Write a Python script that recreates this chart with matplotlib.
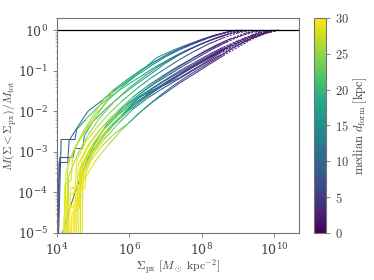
import numpy as np
import matplotlib
matplotlib.use("Agg")
import matplotlib.pyplot as plt
from matplotlib.collections import LineCollection
from matplotlib.colors import Normalize

plt.rcParams['mathtext.fontset'] = 'cm'
plt.rcParams['font.family'] = ['DejaVu Serif']

# log10 surface density knots for each galaxy curve
curve_logsigma = [
    [4.02, 4.06, 4.30, 4.34, 4.60, 4.86, 5.30, 5.70, 6.00, 6.40, 6.76, 7.20, 7.60, 8.00, 8.40, 8.75, 8.95],
    [4.03, 4.08, 4.45, 4.50, 4.72, 4.76, 5.00, 5.40, 5.80, 6.20, 6.60, 7.00, 7.40, 7.80, 8.20, 8.60, 9.00, 9.15],
    [4.05, 4.12, 4.50, 4.55, 4.80, 5.10, 5.50, 5.90, 6.30, 6.70, 7.10, 7.50, 7.90, 8.30, 8.70, 9.10, 9.35],
    [4.15, 4.50, 4.80, 5.05, 5.40, 5.80, 6.20, 6.60, 7.00, 7.40, 7.80, 8.20, 8.60, 9.00, 9.40, 9.70],
    [4.20, 4.22, 4.40, 4.44, 4.70, 5.00, 5.30, 5.55, 5.90, 6.30, 6.70, 7.10, 7.50, 7.90, 8.30, 8.70, 9.05],
    [4.25, 4.28, 4.50, 4.55, 4.80, 5.10, 5.45, 5.80, 6.20, 6.60, 7.00, 7.40, 7.80, 8.20, 8.60, 9.00, 9.40],
    [4.30, 4.32, 4.60, 4.64, 4.90, 5.20, 5.60, 6.00, 6.40, 6.80, 7.20, 7.60, 8.00, 8.40, 8.80, 9.20, 9.55],
    [4.35, 4.38, 4.55, 4.60, 4.85, 5.15, 5.50, 5.90, 6.30, 6.70, 7.10, 7.50, 7.90, 8.30, 8.70, 9.10, 9.50, 9.75],
    [4.40, 4.42, 4.62, 4.66, 4.95, 5.25, 5.60, 6.00, 6.40, 6.80, 7.20, 7.60, 8.00, 8.40, 8.80, 9.20, 9.60, 9.85],
    [4.55, 4.58, 4.80, 5.00, 5.30, 5.60, 5.90, 6.30, 6.80, 7.40, 8.00, 8.50, 9.00, 9.50, 9.90, 10.15],
    [4.45, 4.47, 4.70, 4.75, 5.00, 5.30, 5.70, 6.10, 6.50, 6.90, 7.30, 7.70, 8.10, 8.50, 8.90, 9.30, 9.70, 10.00],
    [4.60, 4.62, 4.85, 5.10, 5.40, 5.80, 6.20, 6.60, 7.00, 7.40, 7.80, 8.20, 8.60, 9.00, 9.40, 9.80, 10.10],
    [4.22, 4.25, 4.45, 4.70, 5.00, 5.30, 5.55, 5.90, 6.30, 6.70, 7.10, 7.50, 7.90, 8.30, 8.70, 9.00],
    [4.18, 4.20, 4.35, 4.38, 4.65, 4.68, 4.95, 5.30, 5.70, 6.10, 6.50, 6.90, 7.30, 7.70, 8.10, 8.50, 8.90, 9.30, 9.60],
    [4.50, 4.52, 4.68, 4.72, 5.00, 5.35, 5.75, 6.15, 6.55, 6.95, 7.35, 7.75, 8.15, 8.55, 8.95, 9.35, 9.75, 9.95],
    [4.65, 4.67, 4.90, 5.20, 5.50, 5.85, 6.25, 6.65, 7.05, 7.45, 7.85, 8.25, 8.65, 9.05, 9.45, 9.80, 10.05],
    [4.30, 4.33, 4.55, 4.85, 5.20, 5.60, 6.00, 6.40, 6.80, 7.20, 7.60, 8.00, 8.40, 8.80, 9.10, 9.25],
    [4.38, 4.40, 4.52, 4.56, 4.78, 4.82, 5.05, 5.40, 5.80, 6.20, 6.60, 7.00, 7.40, 7.80, 8.20, 8.60, 9.00, 9.40, 9.70],
    [4.48, 4.50, 4.75, 5.05, 5.40, 5.80, 6.20, 6.60, 7.00, 7.40, 7.80, 8.20, 8.60, 9.00, 9.40, 9.80, 10.12],
    [4.70, 4.72, 4.95, 5.25, 5.60, 6.00, 6.40, 6.80, 7.20, 7.60, 8.00, 8.40, 8.80, 9.20, 9.60, 9.90],
    [4.28, 4.30, 4.50, 4.80, 5.10, 5.45, 5.80, 6.20, 6.60, 7.00, 7.40, 7.80, 8.20, 8.60, 8.95, 9.10],
]

# log10 cumulative mass fraction knots
curve_logfrac = [
    [-5.0, -3.25, -3.25, -2.72, -2.35, -2.00, -1.70, -1.42, -1.23, -0.95, -0.68, -0.50, -0.36, -0.23, -0.12, -0.04, 0.0],
    [-5.0, -3.13, -3.13, -2.90, -2.90, -2.60, -2.25, -1.90, -1.60, -1.33, -1.08, -0.82, -0.60, -0.42, -0.26, -0.13, -0.03, 0.0],
    [-5.0, -2.68, -2.68, -2.45, -2.20, -1.92, -1.62, -1.38, -1.15, -0.92, -0.72, -0.53, -0.37, -0.23, -0.11, -0.03, 0.0],
    [-5.0, -4.0, -3.3, -2.78, -2.30, -1.95, -1.68, -1.45, -1.22, -1.00, -0.80, -0.60, -0.42, -0.26, -0.12, 0.0],
    [-5.0, -3.80, -3.70, -3.00, -2.60, -2.25, -1.85, -1.50, -1.25, -1.00, -0.78, -0.58, -0.42, -0.27, -0.14, -0.05, 0.0],
    [-5.0, -4.1, -4.0, -3.2, -2.75, -2.40, -2.05, -1.75, -1.45, -1.18, -0.95, -0.72, -0.52, -0.34, -0.19, -0.07, 0.0],
    [-5.0, -4.4, -4.3, -3.4, -2.95, -2.55, -2.15, -1.80, -1.50, -1.23, -1.00, -0.78, -0.56, -0.37, -0.21, -0.08, 0.0],
    [-5.0, -3.9, -3.9, -3.3, -2.85, -2.50, -2.15, -1.85, -1.57, -1.32, -1.10, -0.88, -0.67, -0.47, -0.29, -0.14, -0.04, 0.0],
    [-5.0, -4.5, -4.4, -3.6, -3.05, -2.65, -2.30, -1.98, -1.70, -1.45, -1.22, -1.00, -0.78, -0.57, -0.37, -0.20, -0.07, 0.0],
    [-5.0, -3.6, -3.2, -2.95, -2.60, -2.30, -2.00, -1.64, -1.42, -1.17, -0.85, -0.57, -0.36, -0.16, -0.05, 0.0],
    [-5.0, -4.2, -4.1, -3.5, -3.05, -2.70, -2.30, -1.95, -1.68, -1.45, -1.24, -1.03, -0.82, -0.62, -0.42, -0.24, -0.09, 0.0],
    [-5.0, -3.8, -3.25, -2.85, -2.50, -2.10, -1.78, -1.52, -1.30, -1.08, -0.88, -0.68, -0.50, -0.33, -0.18, -0.06, 0.0],
    [-5.0, -3.5, -3.0, -2.55, -2.10, -1.70, -1.48, -1.25, -1.00, -0.78, -0.58, -0.42, -0.28, -0.15, -0.05, 0.0],
    [-5.0, -4.6, -4.5, -3.9, -3.8, -3.2, -2.75, -2.35, -1.98, -1.65, -1.38, -1.14, -0.92, -0.72, -0.53, -0.35, -0.19, -0.06, 0.0],
    [-5.0, -4.0, -3.9, -3.3, -2.80, -2.40, -2.05, -1.75, -1.50, -1.27, -1.06, -0.86, -0.66, -0.47, -0.30, -0.15, -0.04, 0.0],
    [-5.0, -3.4, -3.0, -2.65, -2.35, -2.05, -1.75, -1.50, -1.27, -1.05, -0.84, -0.64, -0.46, -0.29, -0.14, -0.04, 0.0],
    [-5.0, -3.6, -3.1, -2.60, -2.15, -1.75, -1.42, -1.15, -0.90, -0.68, -0.50, -0.34, -0.20, -0.08, -0.02, 0.0],
    [-5.0, -4.7, -4.6, -4.0, -3.9, -3.4, -2.95, -2.50, -2.10, -1.80, -1.55, -1.32, -1.10, -0.90, -0.70, -0.50, -0.32, -0.15, 0.0],
    [-5.0, -4.3, -3.7, -3.25, -2.85, -2.45, -2.10, -1.80, -1.55, -1.30, -1.08, -0.85, -0.63, -0.42, -0.22, -0.07, 0.0],
    [-5.0, -3.7, -3.2, -2.85, -2.55, -2.28, -1.95, -1.65, -1.38, -1.14, -0.92, -0.70, -0.48, -0.28, -0.11, 0.0],
    [-5.0, -3.3, -2.9, -2.45, -2.05, -1.70, -1.40, -1.12, -0.88, -0.66, -0.48, -0.33, -0.19, -0.08, -0.02, 0.0],
]

# median formation distance (kpc) at each knot
curve_dform = [
    [9, 9, 9, 9, 9, 10, 12, 14, 16, 17, 16, 13, 10, 7, 5, 4, 3],
    [8, 8, 8, 10, 12, 14, 18, 22, 21, 19, 17, 14, 11, 8, 6, 4, 3, 3],
    [8, 8, 8, 12, 20, 24, 22, 20, 18, 15, 12, 9, 7, 5, 4, 3, 3],
    [15, 15, 15, 16, 18, 17, 15, 13, 11, 9, 7, 5, 4, 3, 3, 3],
    [29, 29, 29, 28, 28, 27, 26, 24, 21, 18, 15, 12, 9, 6, 4, 3, 3],
    [30, 30, 29, 29, 28, 27, 25, 22, 19, 16, 12, 9, 6, 4, 3, 3, 2],
    [29, 29, 29, 28, 28, 27, 25, 22, 18, 14, 10, 7, 5, 4, 3, 3, 2],
    [30, 30, 29, 29, 28, 27, 25, 21, 16, 12, 9, 6, 5, 4, 3, 3, 2, 2],
    [29, 29, 29, 28, 28, 27, 24, 20, 15, 11, 8, 6, 5, 4, 3, 3, 2, 2],
    [28, 28, 27, 25, 22, 18, 13, 8, 6, 5, 4, 3, 3, 2, 2, 2],
    [30, 30, 29, 29, 28, 26, 22, 16, 11, 8, 6, 5, 4, 3, 3, 2, 2, 2],
    [29, 29, 28, 27, 25, 21, 16, 12, 9, 7, 5, 4, 3, 3, 2, 2, 2],
    [28, 28, 28, 27, 26, 25, 23, 21, 18, 15, 12, 9, 6, 4, 3, 3],
    [30, 30, 30, 30, 29, 29, 28, 27, 24, 19, 14, 10, 7, 5, 4, 3, 3, 2, 2],
    [29, 29, 29, 28, 27, 25, 20, 15, 11, 8, 6, 5, 4, 3, 3, 2, 2, 2],
    [28, 28, 27, 26, 23, 18, 13, 9, 7, 5, 4, 3, 3, 2, 2, 2, 2],
    [27, 27, 26, 25, 24, 22, 20, 18, 15, 12, 9, 6, 4, 3, 3, 3],
    [30, 30, 30, 30, 29, 29, 28, 26, 22, 17, 13, 10, 7, 5, 4, 3, 3, 2, 2],
    [30, 30, 29, 28, 27, 24, 19, 14, 10, 7, 5, 4, 3, 3, 2, 2, 2],
    [29, 29, 28, 27, 25, 22, 17, 12, 8, 6, 4, 3, 3, 2, 2, 2],
    [28, 28, 27, 26, 25, 23, 20, 18, 16, 13, 10, 7, 5, 4, 3, 3],
]

cbar_ticks = [0, 5, 10, 15, 20, 25, 30]

fig = plt.figure(figsize=(3.74, 2.80), dpi=100)
ax = fig.add_axes([0.152, 0.168, 0.648, 0.768])
cax = fig.add_axes([0.840, 0.168, 0.032, 0.768])

cmap = plt.get_cmap('viridis')
norm = Normalize(vmin=0, vmax=30)

for xs, ys, ds in zip(curve_logsigma, curve_logfrac, curve_dform):
    xs = np.asarray(xs); ys = np.asarray(ys); ds = np.asarray(ds, float)
    pts = np.column_stack([10.0 ** xs, 10.0 ** ys])
    segs = np.stack([pts[:-1], pts[1:]], axis=1)
    cols = cmap(norm(0.5 * (ds[:-1] + ds[1:])))
    styles = ['solid' if x0 < 8.5 else (0, (2.0, 1.2)) for x0 in xs[:-1]]
    lc = LineCollection(segs, colors=cols, linewidths=0.75, linestyles=styles)
    ax.add_collection(lc)

ax.axhline(1.0, color='black', lw=0.9)

ax.set_xscale('log')
ax.set_yscale('log')
ax.set_xlim(1e4, 5e10)
ax.set_ylim(1e-5, 2.0)
ax.set_xticks([1e4, 1e6, 1e8, 1e10])
ax.xaxis.set_minor_locator(matplotlib.ticker.NullLocator())

grey = '0.45'
for sp in ax.spines.values():
    sp.set_color(grey)
    sp.set_linewidth(0.8)
ax.tick_params(which='both', colors=grey, labelcolor='0.25', labelsize=9)
ax.tick_params(which='major', length=3, width=0.6)
ax.tick_params(which='minor', length=1.5, width=0.4)

ax.set_xlabel(r'$\Sigma_\mathrm{px}\ [M_\odot\ \mathrm{kpc}^{-2}]$', fontsize=8.5, color='0.25', labelpad=-0.5)
ax.set_ylabel(r'$M(\Sigma < \Sigma_\mathrm{px})/M_\mathrm{tot}$', fontsize=8.5, color='0.25', labelpad=-1)

sm = matplotlib.cm.ScalarMappable(norm=norm, cmap=cmap)
cb = fig.colorbar(sm, cax=cax, ticks=cbar_ticks)
cb.ax.set_yticklabels([r'$%d$' % t for t in cbar_ticks])
cb.outline.set_edgecolor(grey)
cb.outline.set_linewidth(0.8)
cb.ax.tick_params(colors=grey, labelcolor='0.25', labelsize=9, length=3, width=0.6)
cb.set_label(r'$\mathrm{median}\ d_\mathrm{form}\ [\mathrm{kpc}]$', fontsize=9, color='0.25', labelpad=2)

fig.savefig('out.png', dpi=100)
